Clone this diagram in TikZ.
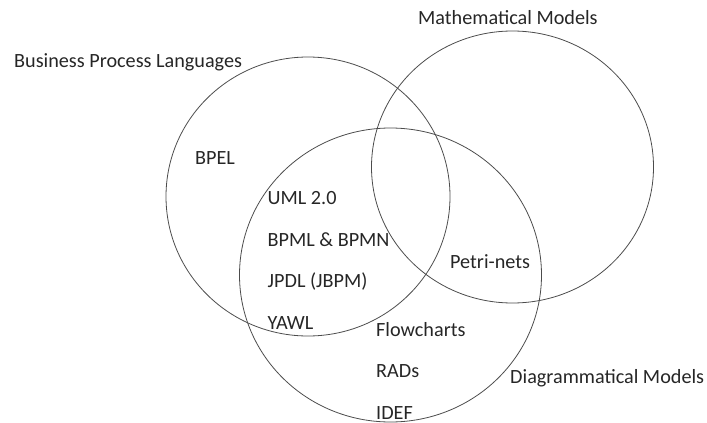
\documentclass[tikz,border=0pt]{standalone}
\usepackage{fontspec}
\setmainfont{Carlito}
\usepackage{tikz}

\begin{document}
\begin{tikzpicture}[x=1pt, y=-1pt, font=\fontsize{20.2}{23}\selectfont,
  set/.style={draw=black!70, line width=0.8pt},
  lbl/.style={anchor=west, inner sep=0pt, text=black!85}]
  \useasboundingbox (0,0) rectangle (707,423);
  % the three sets: languages (left), mathematical (right), diagrammatical (bottom)
  \coordinate (bplc) at (308,196.5);
  \coordinate (mmc) at (512.5,167);
  \coordinate (dmc) at (390.5,275);
  \draw[set] (bplc) ellipse [x radius=142pt, y radius=139.5pt];
  \draw[set] (mmc) ellipse [x radius=141pt, y radius=136pt];
  \draw[set] (dmc) ellipse [x radius=151pt, y radius=147pt];
  % set titles
  \node[lbl] (bpl) at (14,62) {Business Process Languages};
  \node[lbl] (mm) at (418,17.5) {Mathematical Models};
  \node[lbl] (dm) at (510,378) {Diagrammatical Models};
  % members
  \node[lbl] (bpel) at (195,158) {BPEL};
  \foreach \n/\t/\y in {uml/UML 2.0/198, bpmn/BPML \& BPMN/240, jpdl/JPDL (JBPM)/282, yawl/YAWL/323}
    \node[lbl] (\n) at (267.5,\y) {\t};
  \foreach \n/\t/\y in {flow/Flowcharts/330, rads/RADs/371, idef/IDEF/413}
    \node[lbl] (\n) at (376,\y) {\t};
  \node[lbl] (petri) at (450,262) {Petri-nets};
\end{tikzpicture}
\end{document}
